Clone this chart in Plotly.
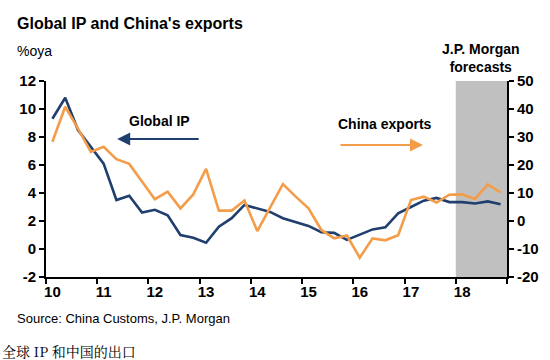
import plotly.graph_objects as go

# Quarterly data 2010Q1 - 2018Q4 (x at quarter midpoints)
years = list(range(2010, 2019))
quarters = [y + 0.125 + 0.25 * q for y in years for q in range(4)]

global_ip = [9.3, 10.8, 8.5, 7.3, 6.1, 3.5, 3.8, 2.6,
             2.8, 2.4, 1.0, 0.8, 0.45, 1.6, 2.2, 3.15,
             2.9, 2.65, 2.2, 1.9, 1.65, 1.2, 1.15, 0.65,
             1.05, 1.4, 1.55, 2.55, 3.0, 3.45, 3.65, 3.35,
             3.35, 3.25, 3.4, 3.2]

china_exports = [28.3, 40.8, 33.0, 24.7, 26.5, 22.1, 20.4, 14.0,
                 7.8, 10.5, 4.5, 9.5, 18.6, 3.7, 3.7, 7.3,
                 -3.6, 4.8, 13.2, 8.7, 4.5, -3.2, -6.2, -5.2,
                 -13.1, -6.2, -6.9, -5.1, 7.5, 8.7, 6.6, 9.4,
                 9.5, 7.9, 13.1, 10.2]

tick_labels = ["10", "11", "12", "13", "14", "15", "16", "17", "18"]
left_ticks = [-2, 0, 2, 4, 6, 8, 10, 12]
left_labels = ["-2", "0", "2", "4", "6", "8", "10", "12"]
right_ticks = [-20, -10, 0, 10, 20, 30, 40, 50]
right_labels = ["-20", "-10", "0", "10", "20", "30", "40", "50"]

BLUE = "#213F6E"
ORANGE = "#F39C4A"
FONT = "Liberation Sans, Arial, sans-serif"

fig = go.Figure()
fig.add_trace(go.Scatter(x=quarters, y=china_exports, mode="lines", yaxis="y2",
                         line=dict(color=ORANGE, width=2.6), name="China exports"))
fig.add_trace(go.Scatter(x=quarters, y=global_ip, mode="lines", yaxis="y",
                         line=dict(color=BLUE, width=2.6), name="Global IP"))

# forecast shading
fig.add_shape(type="rect", xref="x", yref="y", x0=2018, x1=2019, y0=-2, y1=12,
              fillcolor="#C0C0C0", line=dict(width=0), layer="below")

W, H = 550, 360
ml, mr, mt, mb = 46, 43, 81, 83
pw, ph = W - ml - mr, H - mt - mb

def px(x):
    return (x - ml) / pw

def py(y):
    return (H - mb - y) / ph

ann = []
ann.append(dict(text="<b>Global IP and China's exports</b>", x=px(15), y=py(24),
                xref="paper", yref="paper", xanchor="left", yanchor="middle",
                showarrow=False, font=dict(size=16, color="black", family=FONT)))
ann.append(dict(text="%oya", x=px(15), y=py(51),
                xref="paper", yref="paper", xanchor="left", yanchor="middle",
                showarrow=False, font=dict(size=14, color="black", family=FONT)))
ann.append(dict(text="<b>J.P. Morgan<br>forecasts</b>", x=px(481), y=py(58),
                xref="paper", yref="paper", xanchor="center", yanchor="middle",
                showarrow=False, font=dict(size=14, color="black", family=FONT)))
ann.append(dict(text="<b>Global IP</b>", x=px(159), y=py(121),
                xref="paper", yref="paper", xanchor="center", yanchor="middle",
                showarrow=False, font=dict(size=14, color="black", family=FONT)))
ann.append(dict(text="<b>China exports</b>", x=px(385), y=py(124),
                xref="paper", yref="paper", xanchor="center", yanchor="middle",
                showarrow=False, font=dict(size=14, color="black", family=FONT)))
ann.append(dict(text="Source: China Customs, J.P. Morgan", x=px(15), y=py(318),
                xref="paper", yref="paper", xanchor="left", yanchor="middle",
                showarrow=False, font=dict(size=13, color="black", family=FONT)))
ann.append(dict(text="全球 IP 和中国的出口", x=px(1), y=py(351),
                xref="paper", yref="paper", xanchor="left", yanchor="middle",
                showarrow=False, borderpad=0,
                font=dict(size=14, color="black",
                          family="Noto Serif CJK SC, Noto Sans CJK SC")))
# arrows
ann.append(dict(x=2011.39, y=7.86, ax=2013.01, ay=7.86, xref="x", yref="y",
                axref="x", ayref="y", text="", showarrow=True, arrowhead=2,
                arrowsize=1.3, arrowwidth=2, arrowcolor=BLUE))
ann.append(dict(x=2017.36, y=7.43, ax=2015.72, ay=7.43, xref="x", yref="y",
                axref="x", ayref="y", text="", showarrow=True, arrowhead=2,
                arrowsize=1.3, arrowwidth=2, arrowcolor=ORANGE))

fig.update_layout(
    width=W, height=H,
    margin=dict(l=ml, r=mr, t=mt, b=mb, pad=0, autoexpand=False),
    plot_bgcolor="white", paper_bgcolor="white",
    showlegend=False,
    annotations=ann,
    font=dict(family=FONT, color="black"),
    xaxis=dict(range=[2010, 2019], tickvals=[y + 0.125 for y in years],
               ticktext=tick_labels, ticks="", showgrid=False, zeroline=False,
               showline=True, linecolor="black", linewidth=2, automargin=False,
               tickfont=dict(size=15, weight="bold", family=FONT),
               minor=dict(tickvals=list(range(2010, 2020)), ticks="outside",
                          ticklen=5, tickwidth=2, tickcolor="black", showgrid=False)),
    yaxis=dict(range=[-2, 12], tickvals=left_ticks, ticktext=left_labels,
               ticks="outside", ticklen=5,
               tickwidth=2, tickcolor="black", showgrid=False, zeroline=False,
               showline=True, linecolor="black", linewidth=2, automargin=False,
               tickfont=dict(size=15, weight="bold", family=FONT)),
    yaxis2=dict(range=[-20, 50], tickvals=right_ticks, ticktext=right_labels,
                overlaying="y", side="right",
                ticks="outside", ticklen=5, tickwidth=2, tickcolor="black",
                showgrid=False, zeroline=False, showline=True, linecolor="black",
                linewidth=2, automargin=False,
                tickfont=dict(size=15, weight="bold", family=FONT)),
)

fig.write_html("out.html", config={"displayModeBar": False},
               post_script="document.body.style.margin='0';")
